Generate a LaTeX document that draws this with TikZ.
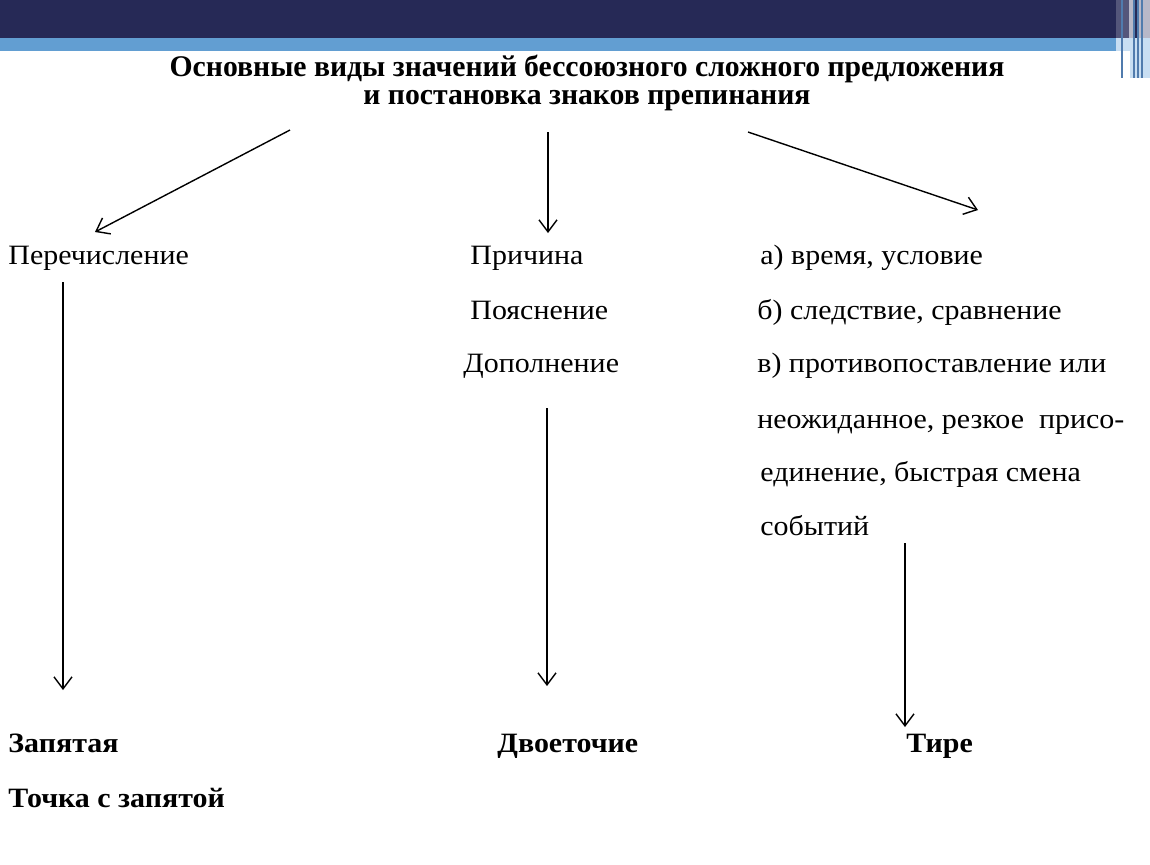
\documentclass[tikz,border=0pt]{standalone}
\usepackage{fontspec}
\setmainfont{Liberation Serif}[FakeStretch=1.07]
\newfontfamily\headfont{Liberation Serif}[FakeStretch=0.99]
\usetikzlibrary{arrows.meta}
\definecolor{navy}{RGB}{38,41,86}
\definecolor{band}{RGB}{98,158,210}
\definecolor{stripe}{RGB}{84,86,122}
\definecolor{stripelight}{RGB}{184,184,200}
\definecolor{paleblue}{RGB}{200,222,242}
\tikzset{
  arr/.style={-{Straight Barb[length=6pt,width=9pt]}, line width=0.7pt},
  txt/.style={anchor=west, inner sep=0pt, text height=10pt, text depth=3pt, font=\fontsize{14}{16}\selectfont},
  sign/.style={txt, font=\fontsize{14}{16}\selectfont\bfseries},
  head/.style={inner sep=0pt, font=\headfont\fontsize{15}{17}\selectfont\bfseries, align=center},
}
\begin{document}
\begin{tikzpicture}[x=0.5pt,y=-0.5pt]
        \useasboundingbox (0,0) rectangle (1150,864);
        % header bands
        \fill[navy] (0,0) rectangle (1150,38);
        \fill[band] (0,38) rectangle (1150,51);
        \fill[stripe] (1116,0) rectangle (1129,38);
        \fill[stripelight] (1129,0) rectangle (1133,38);
        \fill[stripelight] (1137,0) rectangle (1141,38);
        \fill[stripelight] (1142,0) rectangle (1150,38);
        \fill[paleblue] (1116,38) rectangle (1150,51);
        \fill[paleblue] (1130,51) rectangle (1150,78);
        \foreach \sx in {1121,1133,1137,1141}
          \fill[band!70!navy] (\sx,0) rectangle ++(1.5,78);

        % title
        \node[head] (title) at (587,83) {Основные виды значений бессоюзного сложного предложения\\[-3pt]
          и постановка знаков препинания};
        \coordinate (tl) at (290,130);
        \coordinate (tm) at (548,132);
        \coordinate (tr) at (748,132);
        \coordinate (hl) at (95,232);
        \coordinate (hm) at (548,233);
        \coordinate (hr) at (978,210);
        \draw[arr] (tl) -- (hl);
        \draw[arr] (tm) -- (hm);
        \draw[arr] (tr) -- (hr);

        % meanings
        \node[txt] (enum) at (8,257) {Перечисление};
        \node[txt] (cause) at (470,257) {Причина};
        \node[txt] (expl) at (470,312) {Пояснение};
        \node[txt] (compl) at (463,365) {Дополнение};
        \node[txt] (ra) at (760,257) {а) время, условие};
        \node[txt] (rb) at (757,312) {б) следствие, сравнение};
        \node[txt] (rc) at (757,365) {в) противопоставление или};
        \node[txt] (rd) at (757,421) {неожиданное, резкое\ \ присо-};
        \node[txt] (re) at (760,474) {единение, быстрая смена};
        \node[txt] (rf) at (760,528) {событий};

        % signs
        \node[sign] (comma) at (8,745) {Запятая};
        \node[sign] (semi) at (8,800) {Точка с запятой};
        \node[sign] (colon) at (497,745) {Двоеточие};
        \node[sign] (dash) at (906,745) {Тире};

        \coordinate (sl) at (63,282);
        \coordinate (el) at (63,690);
        \coordinate (sm) at (547,408);
        \coordinate (em) at (547,686);
        \coordinate (sr) at (905,543);
        \coordinate (er) at (905,727);
        \draw[arr] (sl) -- (el);
        \draw[arr] (sm) -- (em);
        \draw[arr] (sr) -- (er);
\end{tikzpicture}
\end{document}
